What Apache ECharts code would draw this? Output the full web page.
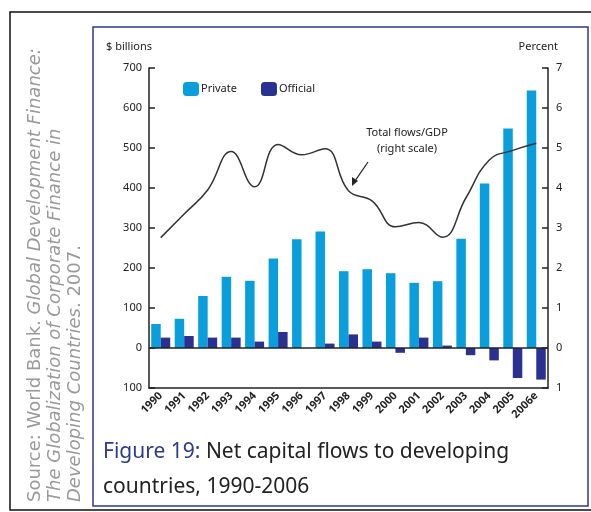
<!DOCTYPE html>
<html>
<head>
<meta charset="utf-8">
<script src="https://cdn.jsdelivr.net/npm/echarts@6/dist/echarts.min.js"></script>
<style>
  html, body { margin: 0; padding: 0; background: #fff; }
  #chart { width: 591px; height: 512px; }
</style>
</head>
<body>
<div id="chart"></div>
<script>
// 数据
var years = ['1990', '1991', '1992', '1993', '1994', '1995', '1996', '1997', '1998',
             '1999', '2000', '2001', '2002', '2003', '2004', '2005', '2006e'];
var privateFlows = [60, 73, 130, 178, 168, 224, 272, 291, 192, 197, 187, 163, 167, 273, 411, 549, 644];
var officialFlows = [26, 30, 26, 26, 16, 40, 0, 11, 34, 16, -12, 26, 6, -18, -31, -75, -79];
var flowsToGdp = [2.76, 3.35, 3.95, 4.91, 4.03, 5.09, 4.83, 4.98, 3.93, 3.68, 3.03, 3.14, 2.77, 3.75, 4.7, 4.94, 5.12];

var font = 'Noto Sans';
var gray = '#9a9a9a';
var myChart = echarts.init(document.getElementById('chart'));

var option = {
    animation: false,
    textStyle: { fontFamily: font },
    grid: { left: 149, right: 43, top: 68, bottom: 124 },
    legend: {
        left: 178, top: 77,
        itemWidth: 16, itemHeight: 14, itemGap: 24,
        textStyle: { fontSize: 11, color: '#222', padding: [0, 0, 0, -3] },
        data: ['Private', 'Official']
    },
    xAxis: {
        type: 'category',
        data: years,
        axisLine: { onZero: false, lineStyle: { color: '#222', width: 1.5 } },
        axisTick: { length: 7, lineStyle: { color: '#222', width: 1.5 } },
        axisLabel: { rotate: 45, fontSize: 11, color: '#222', margin: 6, fontWeight: 'bold' }
    },
    yAxis: [{
        type: 'value', min: -100, max: 700, interval: 100,
        name: '$ billions', nameLocation: 'end', nameGap: 16,
        nameTextStyle: { fontSize: 11, color: '#222', align: 'left', padding: [0, 0, 0, -43] },
        axisLine: { show: true, lineStyle: { color: '#222', width: 1.5 } },
        axisTick: { show: true, inside: true, length: 6, lineStyle: { color: '#222', width: 1.5 } },
        axisLabel: { fontSize: 11, color: '#222', margin: 7, formatter: function (v) { return Math.abs(v); } },
        splitLine: { show: false }
    }, {
        type: 'value', min: -1, max: 7, interval: 1,
        name: 'Percent', nameLocation: 'end', nameGap: 16,
        nameTextStyle: { fontSize: 11, color: '#222', align: 'right', padding: [0, -10, 0, 0] },
        axisLine: { show: true, lineStyle: { color: '#222', width: 1.5 } },
        axisTick: { show: true, inside: true, length: 6, lineStyle: { color: '#222', width: 1.5 } },
        axisLabel: { fontSize: 11, color: '#222', margin: 8, formatter: function (v) { return Math.abs(v); } },
        splitLine: { show: false }
    }],
    series: [{
        name: 'Private',
        type: 'bar',
        data: privateFlows,
        barWidth: 9.5,
        barGap: '0%',
        itemStyle: { color: '#0a9fdc' },
        markLine: {
            silent: true, symbol: 'none', label: { show: false },
            lineStyle: { color: '#222', width: 1.5, type: 'solid' },
            data: [{ yAxis: 0 }]
        }
    }, {
        name: 'Official',
        type: 'bar',
        data: officialFlows,
        barWidth: 9.5,
        itemStyle: { color: '#2b3190' }
    }, {
        name: 'Total flows/GDP',
        type: 'line',
        yAxisIndex: 1,
        data: flowsToGdp,
        smooth: 0.45,
        symbol: 'none',
        z: 5,
        lineStyle: { color: '#333', width: 1.5 }
    }],
    graphic: [
        // 外框
        { type: 'rect', shape: { x: 10, y: 12, width: 640, height: 498 }, style: { fill: 'none', stroke: '#111', lineWidth: 1.5 }, silent: true },
        { type: 'rect', shape: { x: 93, y: 27, width: 495, height: 479 }, style: { fill: 'none', stroke: '#2e3a8c', lineWidth: 1.5 }, silent: true },
        // 注释
        { type: 'text', x: 407, y: 133, style: { text: 'Total flows/GDP', font: '11px "Noto Sans"', fill: '#222', align: 'center', verticalAlign: 'middle' } },
        { type: 'text', x: 407, y: 149, style: { text: '(right scale)', font: '11px "Noto Sans"', fill: '#222', align: 'center', verticalAlign: 'middle' } },
        { type: 'line', shape: { x1: 368, y1: 162, x2: 355, y2: 181 }, style: { stroke: '#222', lineWidth: 1.3 } },
        { type: 'polygon', shape: { points: [[352, 186], [352, 177], [358, 181]] }, style: { fill: '#222' } },
        // 标题
        { type: 'text', x: 103, y: 452, style: {
            text: '{a|Figure 19: }{b|Net capital flows to developing}',
            verticalAlign: 'middle',
            rich: {
                a: { fontSize: 21, fontFamily: font, fill: '#2e3a8c' },
                b: { fontSize: 21, fontFamily: font, fill: '#222' }
            }
        } },
        { type: 'text', x: 103, y: 487, style: { text: 'countries, 1990-2006', font: '21px "Noto Sans"', fill: '#222', verticalAlign: 'middle' } },
        // 来源 (竖排)
        { type: 'text', x: 35, y: 502, rotation: Math.PI / 2, style: {
            text: '{n|Source: World Bank. }{i|Global Development Finance:}',
            verticalAlign: 'middle',
            rich: {
                n: { fontSize: 18, fontFamily: 'DejaVu Sans', fill: gray },
                i: { fontSize: 18, fontFamily: 'DejaVu Sans', fontStyle: 'italic', fill: gray }
            }
        } },
        { type: 'text', x: 55, y: 502, rotation: Math.PI / 2, style: {
            text: 'The Globalization of Corporate Finance in',
            font: 'italic 18px "DejaVu Sans"', fill: gray, verticalAlign: 'middle'
        } },
        { type: 'text', x: 75, y: 502, rotation: Math.PI / 2, style: {
            text: '{i|Developing Countries}{n|. 2007.}',
            verticalAlign: 'middle',
            rich: {
                n: { fontSize: 18, fontFamily: 'DejaVu Sans', fill: gray },
                i: { fontSize: 18, fontFamily: 'DejaVu Sans', fontStyle: 'italic', fill: gray }
            }
        } }
    ]
};

myChart.setOption(option);
</script>
</body>
</html>
